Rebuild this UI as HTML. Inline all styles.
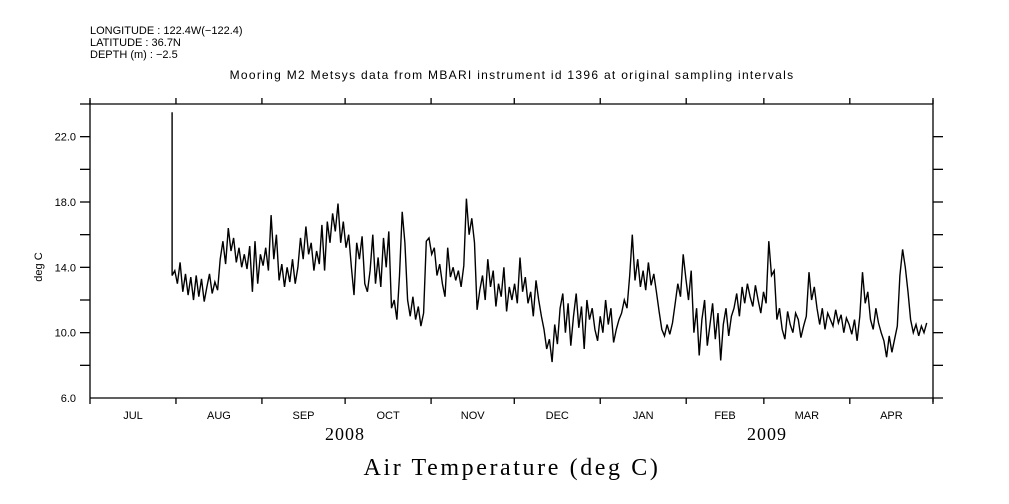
<!DOCTYPE html>
<html><head><meta charset="utf-8"><style>
body{margin:0;background:#fff;}
svg{display:block;}
.s{font-family:"Liberation Sans",sans-serif;font-size:11px;fill:#000;}
.b{font-family:"Liberation Serif",serif;fill:#000;}
</style></head><body>
<svg id="chart" width="1009" height="504" viewBox="0 0 1009 504" xmlns="http://www.w3.org/2000/svg">
<g id="ax"></g>
<polyline id="series" fill="none" stroke="#000" stroke-width="1.4" stroke-linejoin="miter"/>
<text class="s" x="90" y="34">LONGITUDE : 122.4W(−122.4)</text>
<text class="s" x="90" y="46">LATITUDE : 36.7N</text>
<text class="s" x="90" y="58">DEPTH (m) : −2.5</text>
<text class="s" x="512" y="79" text-anchor="middle" style="font-size:12px;letter-spacing:1.3px">Mooring M2 Metsys data from MBARI instrument id 1396 at original sampling intervals</text>
<text class="s" x="42" y="267" text-anchor="middle" transform="rotate(-90 42 267)">deg C</text>
<text class="b" x="345" y="440" text-anchor="middle" style="font-size:18px;letter-spacing:1px">2008</text>
<text class="b" x="767" y="440" text-anchor="middle" style="font-size:18px;letter-spacing:1px">2009</text>
<text class="b" x="512" y="475" text-anchor="middle" style="font-size:24px;letter-spacing:2.6px">Air Temperature (deg C)</text>
</svg>
<script>
const months = ["JUL","AUG","SEP","OCT","NOV","DEC","JAN","FEB","MAR","APR"];
const monthStartDays = [0,31,62,92,123,153,184,215,243,274,304];
const yTicks = [6,10,14,18,22];
const yMinorTicks = [8,12,16,20,24];
const startDay = 29.6;
const stepDays = 0.965;
const spikeValue = 23.5;
const temps = [13.5,13.8,13.0,14.3,12.5,13.6,
12.3,13.4,12.0,13.5,12.2,13.3,11.9,12.8,13.6,12.4,13.1,12.6,
14.5,15.6,14.2,16.4,15.0,15.8,
14.3,15.2,14.0,14.8,13.9,15.3,
12.5,15.6,13.0,14.8,14.1,
15.2,13.8,17.2,14.5,16.0,
13.2,14.2,12.8,14.0,13.1,14.5,13.0,
14.0,15.8,14.5,16.5,14.8,15.5,13.8,15.0,14.2,16.6,13.8,
16.8,15.5,17.3,16.2,17.9,15.5,16.8,
15.2,16.0,14.0,12.3,15.5,14.5,15.9,
13.0,12.5,13.8,16.0,13.0,14.6,12.8,15.8,14.0,16.2,
11.5,12.0,10.8,13.5,
17.4,15.5,
12.0,11.0,12.2,10.8,11.6,
10.4,11.2,15.6,
15.8,14.8,15.2,13.5,14.2,13.0,12.2,15.2,13.4,14.0,13.2,13.8,12.8,14.1,
18.2,16.0,17.0,15.5,
11.4,12.6,13.5,12.0,14.5,12.8,13.8,11.6,13.0,12.2,14.0,11.3,12.8,12.0,
13.0,11.8,14.6,12.5,13.4,11.8,12.5,11.0,13.2,12.0,11.0,10.2,9.0,9.6,
8.2,10.5,9.3,11.5,12.4,10.0,11.8,9.2,11.0,12.4,10.3,11.6,9.0,12.0,10.8,11.5,10.2,
9.5,11.0,10.0,12.0,10.5,11.5,9.4,10.2,10.8,11.2,12.0,11.5,
13.5,16.0,13.2,14.5,
12.8,13.8,12.6,14.3,12.9,13.6,12.5,
11.3,10.2,9.8,10.5,9.9,10.6,11.8,
13.0,12.2,14.8,13.3,12.0,13.8,
10.0,11.5,8.6,10.8,12.0,9.2,10.5,
11.8,9.6,11.2,8.3,10.5,11.5,9.8,11.0,
11.5,12.4,11.0,12.8,11.8,13.0,12.2,11.6,12.9,12.0,11.2,12.5,11.8,
15.6,13.5,13.8,
10.8,11.5,10.2,9.6,11.3,10.5,10.0,11.2,10.8,9.7,10.4,11.0,
13.7,12.0,12.8,11.5,
10.5,11.5,10.2,11.2,10.8,10.4,11.4,10.6,11.1,10.0,10.9,10.5,
9.9,10.8,9.5,11.0,
13.7,11.8,12.5,
10.8,10.2,11.5,10.6,10.0,9.5,8.5,9.8,8.8,9.6,10.4,
13.5,15.1,14.0,12.5,
10.8,10.0,10.5,9.8,10.4,10.0,10.6];

const X0=90, X1=933, Y0=398, Y1=104, DAYS=304, VMIN=6, VMAX=24;
const xs = d => X0 + d*(X1-X0)/DAYS;
const ys = v => Y0 - (v-VMIN)*(Y0-Y1)/(VMAX-VMIN);
const NS="http://www.w3.org/2000/svg";
const ax=document.getElementById('ax');
function line(x1,y1,x2,y2,name){
  const l=document.createElementNS(NS,'line');
  l.setAttribute('x1',x1);l.setAttribute('y1',y1);l.setAttribute('x2',x2);l.setAttribute('y2',y2);
  l.setAttribute('stroke','#000');l.setAttribute('stroke-width','1.3');
  
  
  ax.appendChild(l);
}
function text(x,y,s,anchor,name){
  const t=document.createElementNS(NS,'text');
  t.setAttribute('x',x);t.setAttribute('y',y);t.setAttribute('class','s');
  t.setAttribute('text-anchor',anchor);t.textContent=s;
  
  
  ax.appendChild(t);
}
line(X0,Y1-4,X0,Y0,'left-axis');
line(X1,Y1-4,X1,Y0+4,'right-axis');
line(X0-10,Y1,X1,Y1,'top-axis');
line(X0,Y0,X1+10,Y0,'bottom-axis');
yTicks.concat(yMinorTicks).forEach(v=>{
  if(v>VMIN && v<VMAX){ line(X0-10,ys(v),X0,ys(v),'y-tick'); line(X1,ys(v),X1+10,ys(v),'y-tick-right'); }
});
yTicks.forEach(v=>text(76,ys(v)+4,v.toFixed(1),'end','y-tick-label'));
monthStartDays.forEach(d=>{
  line(xs(d),Y0,xs(d),Y0+6,'x-tick');
  line(xs(d),Y1,xs(d),Y1-6,'x-tick-top');
});
months.forEach((m,i)=>text((xs(monthStartDays[i])+xs(monthStartDays[i+1]))/2,419,m,'middle','month-label'));
const pts=[[xs(startDay),ys(spikeValue)]];
temps.forEach((v,i)=>pts.push([xs(startDay+i*stepDays),ys(v)]));
document.getElementById('series').setAttribute('points',pts.map(p=>p[0].toFixed(1)+','+p[1].toFixed(1)).join(' '));
</script>
</body></html>
